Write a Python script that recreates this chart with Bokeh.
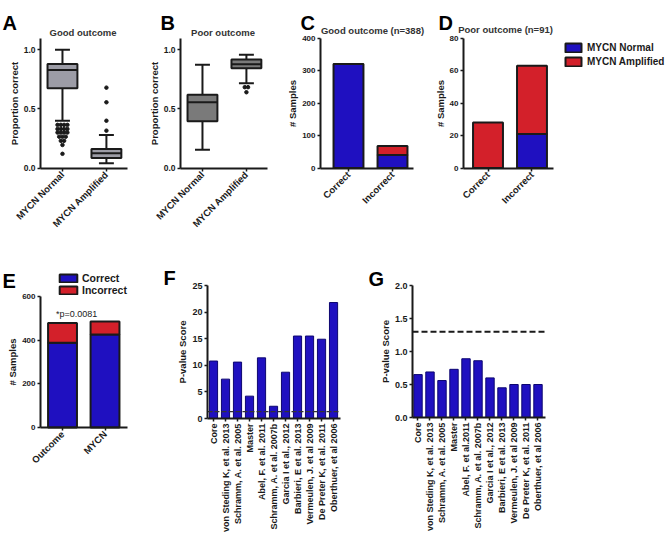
from math import pi
from collections import Counter
import numpy as np
from bokeh.plotting import figure
from bokeh.layouts import row, column
from bokeh.models import Label, Legend, LegendItem, FixedTicker, Range1d, NumeralTickFormatter
from bokeh.embed import file_html
from bokeh.resources import INLINE

FONT = "Liberation Sans"
INK = "#1a1a1a"
BLUE = "#1f10c0"
RED = "#d3202a"

# ---------------- data ----------------
box_cats = ["MYCN Normal", "MYCN Amplified"]
# panel A: Good outcome (whisker low, Q1, median, Q3, whisker high)
a_low = [0.40, 0.04]
a_q1 = [0.675, 0.085]
a_med = [0.83, 0.125]
a_q3 = [0.88, 0.16]
a_high = [1.00, 0.28]
a_out_normal = [0.365, 0.365, 0.365, 0.365, 0.33, 0.33, 0.33, 0.33, 0.30, 0.30, 0.30, 0.30,
                0.265, 0.265, 0.265, 0.23, 0.23, 0.195, 0.12]
a_out_amp = [0.68, 0.556, 0.40, 0.316]
# panel B: Poor outcome
b_low = [0.155, 0.717]
b_q1 = [0.395, 0.845]
b_med = [0.556, 0.878]
b_q3 = [0.62, 0.918]
b_high = [0.873, 0.958]
b_out_normal = []
b_out_amp = [0.684, 0.684, 0.641]

outcome_cats = ["Correct", "Incorrect"]
c_normal = [320, 40]
c_amplified = [0, 28]
d_normal = [0, 21]
d_amplified = [28, 42]

e_cats = ["Outcome", "MYCN"]
e_correct = [388, 426]
e_incorrect = [91, 59]
e_note = "*p=0.0081"

f_cats = ["Core", "von Steding K, et al. 2013", "Schramm, A. et al. 2005", "Master",
          "Abel, F. et al. 2011", "Schramm, A. et al. 2007b", "Garcia I et al., 2012",
          "Barbieri, E et al. 2013", "Vermeulen, J. et al 2009", "De Preter K, et al. 2011",
          "Oberthuer, et al 2006"]
g_cats = ["Core", "von Steding K, et al. 2013", "Schramm, A. et al. 2005", "Master",
          "Abel, F. et al.2011", "Schramm, A. et al. 2007b", "Garcia I et al., 2012",
          "Barbieri, E et al. 2013", "Vermeulen, J. et al 2009", "De Preter K, et al. 2011",
          "Oberthuer, et al 2006"]
f_scores = [10.8, 7.4, 10.6, 4.2, 11.4, 2.3, 8.7, 15.5, 15.5, 14.9, 21.8]
g_scores = [0.65, 0.69, 0.56, 0.73, 0.89, 0.86, 0.60, 0.45, 0.50, 0.50, 0.50]
threshold = 1.3


# ---------------- helpers ----------------
class Panel:
    """A figure whose frame fills the whole canvas; axes are pinned inside it."""

    def __init__(self, W, H, xpx, xv, ypx, yv, tick_size="8.5px"):
        self.W, self.H = W, H
        self.xv = xv
        self.sx = (xpx[1] - xpx[0]) / (xv[1] - xv[0])
        self.x0 = xv[0] - xpx[0] / self.sx
        self.sy = (ypx[0] - ypx[1]) / (yv[1] - yv[0])
        self.y0 = yv[0] - (H - ypx[0]) / self.sy
        self.y1 = self.y0 + H / self.sy
        p = figure(width=W, height=H,
                   x_range=Range1d(self.x0, self.x0 + W / self.sx),
                   y_range=Range1d(self.y0, self.y1),
                   output_backend="svg", toolbar_location=None, title=None,
                   min_border=0, min_border_left=0, min_border_right=0,
                   min_border_top=0, min_border_bottom=0)
        p.outline_line_color = None
        p.xgrid.visible = False
        p.ygrid.visible = False
        p.border_fill_color = "white"
        p.background_fill_color = "white"
        p.xaxis.fixed_location = yv[0]
        p.xaxis.bounds = tuple(xv)
        p.yaxis.fixed_location = xv[0]
        p.yaxis.bounds = tuple(yv)
        for ax in (p.xaxis[0], p.yaxis[0]):
            ax.axis_line_width = 2
            ax.axis_line_color = INK
            ax.major_tick_line_width = 1.5
            ax.major_tick_line_color = INK
            ax.major_tick_in = 0
            ax.major_tick_out = 3
            ax.minor_tick_line_color = None
            ax.major_label_text_font = FONT
            ax.major_label_text_font_style = "bold"
            ax.major_label_text_color = INK
            ax.major_label_text_font_size = tick_size
            ax.axis_label_text_font = FONT
            ax.axis_label_text_font_style = "bold"
            ax.axis_label_text_color = INK
            ax.axis_label_text_font_size = "9.5px"
            ax.major_label_standoff = 2
            ax.axis_label_standoff = 1
        self.p = p

    def at(self, px, py):
        """canvas pixel -> data coordinate"""
        return self.x0 + px / self.sx, self.y1 - py / self.sy

    def text(self, txt, px, py, size, bold=True, align="left", color=INK):
        x, y = self.at(px, py)
        self.p.add_layout(Label(x=x, y=y, text=txt, text_align=align, text_baseline="alphabetic",
                                text_font=FONT, text_font_size=size,
                                text_font_style="bold" if bold else "normal", text_color=color))

    def letter(self, txt, px, py):
        self.text(txt, px, py, "20px", color="black")

    def hline(self, yval, **kw):
        self.p.segment(x0=[self.xv[0]], y0=[yval], x1=[self.xv[1]], y1=[yval], **kw)


def cat_axis(p, labels, size, orient):
    p.xaxis.ticker = FixedTicker(ticks=list(range(len(labels))))
    p.xaxis.major_label_overrides = {i: lab for i, lab in enumerate(labels)}
    p.xaxis.major_label_orientation = orient
    p.xaxis.major_label_text_font_size = size


def spread(vals, center, step=0.075):
    xs, ys = [], []
    for v, n in Counter(vals).items():
        for i in range(n):
            xs.append(center + (i - (n - 1) / 2) * step)
            ys.append(v)
    return xs, ys


def draw_box(p, low, q1, med, q3, high, outliers, fill):
    xs = np.arange(len(low))
    kw = dict(line_color=INK, line_width=2)
    p.segment(x0=xs, y0=low, x1=xs, y1=q1, **kw)
    p.segment(x0=xs, y0=q3, x1=xs, y1=high, **kw)
    p.segment(x0=xs - 0.17, y0=low, x1=xs + 0.17, y1=low, **kw)
    p.segment(x0=xs - 0.17, y0=high, x1=xs + 0.17, y1=high, **kw)
    p.vbar(x=xs, width=0.68, bottom=q1, top=q3, fill_color=fill, **kw)
    p.segment(x0=xs - 0.34, y0=med, x1=xs + 0.34, y1=med, **kw)
    for i, outs in enumerate(outliers):
        if outs:
            ox, oy = spread(outs, i)
            p.scatter(ox, oy, size=3.5, color=INK)


def prop_axis(p):
    p.yaxis.ticker = FixedTicker(ticks=[0, 0.5, 1.0])
    p.yaxis.formatter = NumeralTickFormatter(format="0.0")
    p.yaxis.axis_label = "Proportion correct"


def stacked(p, lower, upper, width=0.68):
    xs = list(range(len(lower)))
    tops = [a + b for a, b in zip(lower, upper)]
    r1 = p.vbar(x=xs, width=width, bottom=0, top=lower, fill_color=BLUE, line_color=INK, line_width=2)
    r2 = p.vbar(x=xs, width=width, bottom=lower, top=tops, fill_color=RED, line_color=INK, line_width=2)
    return r1, r2


def make_legend(items, loc, glyph_w, glyph_h, row_h, spacing, size, standoff):
    return Legend(items=items, location=loc, orientation="vertical",
                  glyph_width=glyph_w, glyph_height=glyph_h, label_standoff=standoff,
                  spacing=spacing, padding=0, margin=0, label_height=row_h,
                  border_line_color=None, background_fill_alpha=0,
                  label_text_font=FONT, label_text_font_style="bold",
                  label_text_font_size=size, label_text_color=INK)


TITLE_SIZE = "9.5px"

# ---------------- row 1 ----------------
H1 = 263
A = Panel(143, H1, (40, 127), (-0.5, 1.48), (167.5, 37.5), (0, 1.1))
prop_axis(A.p)
cat_axis(A.p, box_cats, "9.5px", pi / 4)
draw_box(A.p, a_low, a_q1, a_med, a_q3, a_high, [a_out_normal, a_out_amp], "#9c9ca6")
A.text("Good outcome", 82.5, 31.7, TITLE_SIZE, align="center", color="#333333")
A.letter("A", 2, 22)

B = Panel(145, H1, (37, 124), (-0.5, 1.48), (167.5, 37.5), (0, 1.1))
prop_axis(B.p)
cat_axis(B.p, box_cats, "9.5px", pi / 4)
draw_box(B.p, b_low, b_q1, b_med, b_q3, b_high, [b_out_normal, b_out_amp], "#7a7a7a")
B.text("Poor outcome", 79.5, 32, TITLE_SIZE, align="center", color="#333333")
B.letter("B", 17, 22)

C = Panel(148, H1, (32, 125), (-0.636, 1.477), (167.5, 37.5), (0, 400), tick_size="8px")
C.p.yaxis.ticker = FixedTicker(ticks=[0, 100, 200, 300, 400])
C.p.yaxis.axis_label = "# Samples"
cat_axis(C.p, outcome_cats, "9.5px", pi / 4)
stacked(C.p, c_normal, c_amplified)
C.text("Good outcome (n=388)", 84, 29.5, TITLE_SIZE, align="center", color="#333333")
C.letter("C", 12, 22)

D = Panel(232, H1, (27, 117), (-0.557, 1.489), (167.5, 37.5), (0, 80), tick_size="8px")
D.p.yaxis.ticker = FixedTicker(ticks=[0, 20, 40, 60, 80])
D.p.yaxis.axis_label = "# Samples"
cat_axis(D.p, outcome_cats, "9.5px", pi / 4)
rn, ra = stacked(D.p, d_normal, d_amplified)
D.text("Poor outcome (n=91)", 69, 29, TITLE_SIZE, align="center", color="#333333")
D.letter("D", 2, 22)
D.p.add_layout(make_legend([LegendItem(label="MYCN Normal", renderers=[rn]),
                            LegendItem(label="MYCN Amplified", renderers=[ra])],
                           (127, H1 - 66.5), 20, 11, 11, 3, "10px", 4))

# ---------------- row 2 ----------------
H2 = 271
E = Panel(160, H2, (40, 127), (-0.518, 1.529), (164, 33), (0, 600), tick_size="8px")
E.p.yaxis.ticker = FixedTicker(ticks=[0, 200, 400, 600])
E.p.yaxis.axis_label = "# Samples"
cat_axis(E.p, e_cats, "9.5px", pi / 4)
rc, ri = stacked(E.p, e_correct, e_incorrect)
E.p.add_layout(Label(x=0.33, y=522, text=e_note, text_align="center", text_baseline="middle",
                     text_font=FONT, text_font_size="9px", text_color=INK))
E.p.add_layout(make_legend([LegendItem(label="Correct", renderers=[rc]),
                            LegendItem(label="Incorrect", renderers=[ri])],
                           (57, H2 - 33), 22, 10, 12, 0, "10.5px", 3))
E.letter("E", 2, 17)

F = Panel(206, H2, (47, 180), (-0.5, 10.58), (155, 22), (0, 25), tick_size="9px")
F.p.yaxis.ticker = FixedTicker(ticks=[0, 5, 10, 15, 20, 25])
F.p.yaxis.axis_label = "P-value Score"
cat_axis(F.p, f_cats, "9px", pi / 2)
F.p.vbar(x=list(range(len(f_scores))), width=0.68, top=f_scores, fill_color=BLUE,
         line_color="#0d0670", line_width=1)
F.hline(threshold, line_color="#333333", line_width=1.3, line_dash="5 2")
F.letter("F", 3, 14)

G = Panel(302, H2, (46, 179), (-0.458, 10.625), (154, 22), (0, 2), tick_size="9px")
G.p.yaxis.ticker = FixedTicker(ticks=[0, 0.5, 1.0, 1.5, 2.0])
G.p.yaxis.formatter = NumeralTickFormatter(format="0.0")
G.p.yaxis.axis_label = "P-value Score"
cat_axis(G.p, g_cats, "9px", pi / 2)
G.p.vbar(x=list(range(len(g_scores))), width=0.7, top=g_scores, fill_color=BLUE,
         line_color="#0d0670", line_width=1)
G.hline(threshold, line_color=INK, line_width=2, line_dash="6 3")
G.letter("G", 2, 15)

layout = column(row(A.p, B.p, C.p, D.p), row(E.p, F.p, G.p))
open("out.html", "w").write(file_html(layout, INLINE))
